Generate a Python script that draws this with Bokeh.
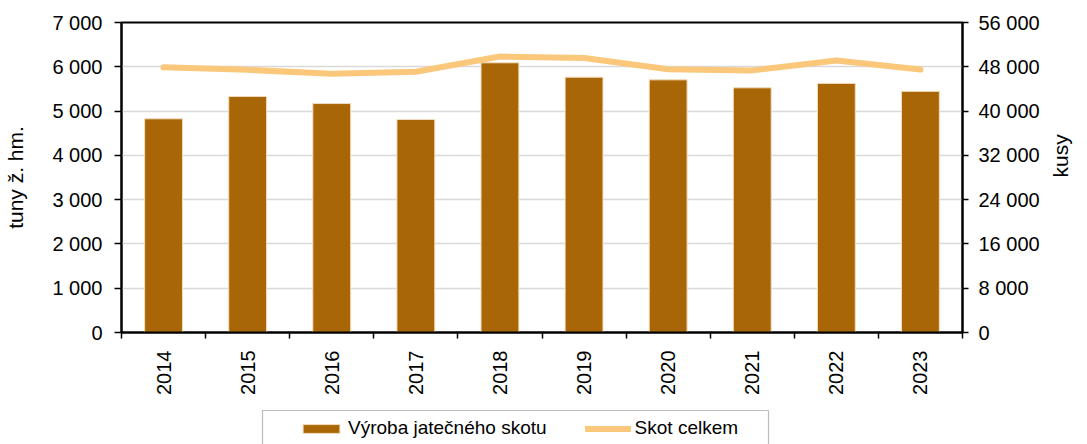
import math
import numpy as np
from bokeh.plotting import figure
from bokeh.layouts import column
from bokeh.models import (Range1d, LinearAxis, FixedTicker, Legend, LegendItem,
                          BoxAnnotation)
from bokeh.embed import file_html
from bokeh.resources import INLINE

# ---- data ----
years = ["2014", "2015", "2016", "2017", "2018", "2019", "2020", "2021", "2022", "2023"]
vyroba = [4825, 5330, 5170, 4810, 6090, 5765, 5705, 5525, 5625, 5445]          # tuny ž. hm.
skot = [47900, 47450, 46750, 47100, 49850, 49600, 47550, 47350, 49150, 47500]  # kusy
left_ticks = [0, 1000, 2000, 3000, 4000, 5000, 6000, 7000]
right_ticks = [0, 8000, 16000, 24000, 32000, 40000, 48000, 56000]
series_names = ["Výroba jatečného skotu", "Skot celkem"]
left_title = "tuny ž. hm."
right_title = "kusy"


def fmt(v):
    return f"{v:,}".replace(",", " ")


FONT = "Liberation Sans"
BAR = "#A86606"
BAR_EDGE = "#F2DDBB"
LINE = "#FBC77B"

x = list(np.arange(len(years)) + 0.5)

p = figure(width=1087, height=400, x_range=Range1d(0, len(years)),
           y_range=Range1d(left_ticks[0], left_ticks[-1]),
           output_backend="svg", toolbar_location=None,
           min_border_left=121, min_border_right=125,
           min_border_top=22, min_border_bottom=68)
p.extra_y_ranges = {"kusy": Range1d(right_ticks[0], right_ticks[-1])}
p.background_fill_color = "white"
p.border_fill_color = "white"
p.outline_line_color = "black"
p.outline_line_width = 2

bars = p.vbar(x=x, top=vyroba, width=0.45, fill_color=BAR,
              line_color=BAR_EDGE, line_width=1)
line = p.line(x=x, y=skot, y_range_name="kusy", line_color=LINE,
              line_width=6, line_cap="round", line_join="round")

# x axis
xa = p.xaxis[0]
xa.ticker = FixedTicker(ticks=x, minor_ticks=list(range(len(years) + 1)))
xa.major_label_overrides = {float(xi): y for xi, y in zip(x, years)}
xa.major_tick_out = 0
xa.major_tick_in = 0
xa.minor_tick_out = 6
xa.minor_tick_in = 0
xa.minor_tick_line_color = "black"
xa.minor_tick_line_width = 1.5
xa.major_label_orientation = math.pi / 2
xa.major_label_standoff = 12
xa.axis_line_width = 2
xa.axis_line_color = "black"
xa.major_label_text_font = FONT
xa.major_label_text_font_size = "20px"
xa.major_label_text_color = "black"

# left y axis
ya = p.yaxis[0]
ya.ticker = FixedTicker(ticks=left_ticks)
ya.major_label_overrides = {v: fmt(v) for v in left_ticks}
ya.major_tick_out = 7
ya.major_tick_in = 0
ya.major_tick_line_width = 1.5
ya.minor_tick_out = 0
ya.minor_tick_in = 0
ya.major_label_standoff = 12
ya.axis_line_width = 2
ya.axis_line_color = "black"
ya.major_label_text_font = FONT
ya.major_label_text_font_size = "20px"
ya.major_label_text_color = "black"
ya.axis_label = left_title
ya.axis_label_standoff = 22
ya.axis_label_text_font = FONT
ya.axis_label_text_font_size = "21px"
ya.axis_label_text_font_style = "normal"
ya.axis_label_text_color = "black"

# right y axis
ra = LinearAxis(y_range_name="kusy", ticker=FixedTicker(ticks=right_ticks))
ra.major_label_overrides = {v: fmt(v) for v in right_ticks}
ra.major_tick_out = 6
ra.major_tick_in = 0
ra.major_tick_line_width = 1.5
ra.minor_tick_out = 0
ra.minor_tick_in = 0
ra.major_label_standoff = 10
ra.axis_line_width = 2
ra.axis_line_color = "black"
ra.major_label_text_font = FONT
ra.major_label_text_font_size = "20px"
ra.major_label_text_color = "black"
ra.axis_label = right_title
ra.axis_label_standoff = 18
ra.axis_label_text_font = FONT
ra.axis_label_text_font_size = "21px"
ra.axis_label_text_font_style = "normal"
ra.axis_label_text_color = "black"
if "axis_label_orientation" in ra.properties():
    ra.axis_label_orientation = math.pi / 2
p.add_layout(ra, "right")

# grid
p.xgrid.visible = False
p.ygrid.ticker = FixedTicker(ticks=left_ticks)
p.ygrid.grid_line_color = "#D9D9D9"
p.ygrid.grid_line_width = 1.5

# ---- legend strip (separate figure below the chart) ----
lg = figure(width=1087, height=44, x_range=Range1d(0, len(years)),
            y_range=Range1d(1e6, 1e6 + 1),
            output_backend="svg", toolbar_location=None,
            x_axis_location=None, y_axis_location=None,
            min_border_left=121, min_border_right=125,
            min_border_top=0, min_border_bottom=0)
lg.grid.visible = False
lg.outline_line_color = None
lg.background_fill_color = "white"
lg.border_fill_color = "white"

# same series, far outside this strip's visible range: only their legend swatches show
lbar = lg.vbar(x=x, top=vyroba, width=0.45, fill_color=BAR,
               line_color=BAR_EDGE, line_width=1)
lline = lg.line(x=x, y=skot, line_color=LINE, line_width=6,
                line_cap="round", line_join="round")

legend = Legend(items=[LegendItem(label=series_names[0], renderers=[lbar]),
                       LegendItem(label=series_names[1], renderers=[lline])],
                orientation="horizontal", location=(177, 5),
                padding=0, margin=0, spacing=38, label_standoff=4,
                glyph_width=46, glyph_height=11, label_height=20,
                label_text_font=FONT, label_text_font_size="19px",
                label_text_color="black",
                border_line_alpha=0, background_fill_alpha=0)
lg.add_layout(legend, "center")

box = BoxAnnotation(left=262, right=768, top=10, bottom=52,
                    left_units="canvas", right_units="canvas",
                    top_units="canvas", bottom_units="canvas",
                    fill_alpha=0, line_color="#222222", line_width=1.2)
lg.add_layout(box)

layout = column(p, lg, spacing=0)
open("out.html", "w").write(file_html(layout, INLINE))
